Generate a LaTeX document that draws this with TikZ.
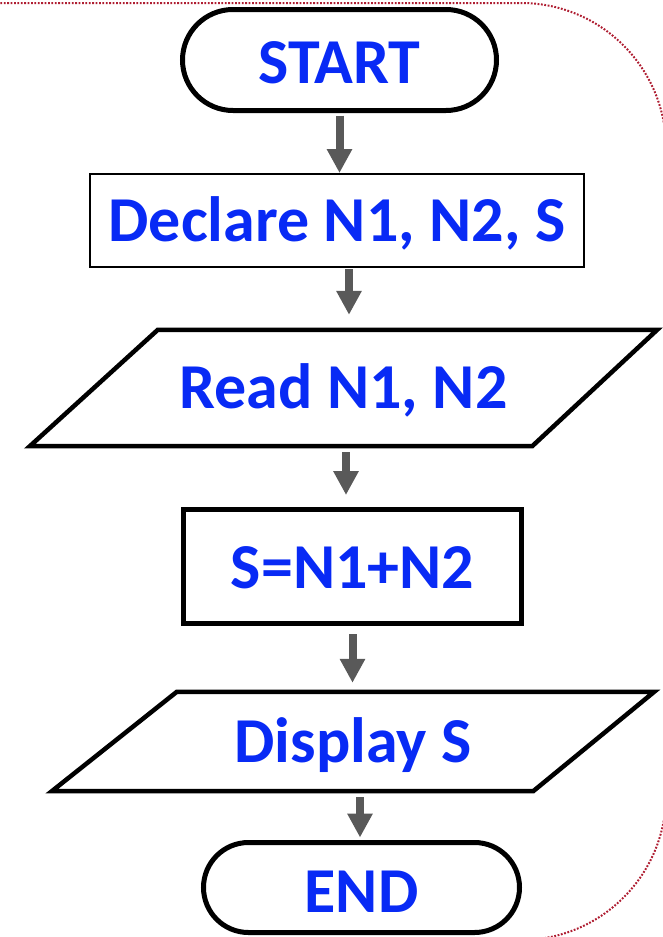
\documentclass[tikz,border=0pt]{standalone}
\usepackage{fontspec}
\setmainfont{Carlito}
\usetikzlibrary{arrows.meta,calc}
\definecolor{txtblue}{RGB}{8,42,245}
\definecolor{arrgray}{RGB}{89,89,89}
\definecolor{framered}{RGB}{175,30,50}
\begin{document}
\begin{tikzpicture}[x=1pt,y=-1pt,
  every node/.style={font=\fontsize{64}{72}\bfseries\selectfont, text=txtblue, inner sep=0pt, text depth=0pt, text height=41pt},
  termbox/.style={draw=black, line width=5pt, rectangle},
  procthin/.style={draw=black, line width=2pt, rectangle},
  procthick/.style={draw=black, line width=5pt, rectangle},
  iobox/.style={rectangle},
  ioline/.style={draw=black, line width=4.5pt, line join=miter},
  arr/.style={draw=arrgray, line width=8pt, -{Triangle[length=24pt,width=24pt]}},
  redframe/.style={draw=framered, line width=2pt, dash pattern=on 1.8pt off 1.6pt}]
\useasboundingbox (0,0) rectangle (663,937);
\begin{scope}
\clip (0,0) rectangle (663,937);
\draw[redframe, rounded corners=145pt] (-20,3) -- (666,3) -- (666,940) -- (-20,940);
\end{scope}

\node[termbox, rounded corners=50.5pt, minimum width=314pt, minimum height=101pt, text height=46pt] (start) at (339.5,60) {START};
\node[procthin, minimum width=494pt, minimum height=93pt, text height=42pt] (declare) at (337,220.5) {Declare N1, N2, S};
\node[iobox, minimum width=627pt, minimum height=116pt] (read) at (343.5,388) {Read N1, N2};
\draw[ioline] ($(read.north west)+(128,0)$) -- (read.north east) -- ($(read.south east)-(125,0)$) -- (read.south west) -- cycle;
\node[procthick, minimum width=338pt, minimum height=114pt, text height=44pt] (sum) at (352.5,566.5) {S=N1+N2};
\node[iobox, minimum width=602pt, minimum height=99pt] (display) at (353,741.5) {Display S};
\draw[ioline] ($(display.north west)+(125,0)$) -- (display.north east) -- ($(display.south east)-(121,0)$) -- (display.south west) -- cycle;
\node[termbox, rounded corners=45pt, minimum width=316pt, minimum height=90pt, text height=49pt] (stop) at (361.5,887.5) {END};

\draw[arr, shorten <=2.5pt] (start.south) -- (start.south |- declare.north);
\draw[arr, shorten <=1pt, shorten >=15pt] ([xshift=12pt]declare.south) -- ([xshift=12pt]declare.south |- read.north);
\draw[arr, shorten <=6pt, shorten >=12pt] ([xshift=2.5pt]read.south) -- ([xshift=2.5pt]read.south |- sum.north);
\draw[arr, shorten <=8pt, shorten >=9pt] (sum.south) -- (sum.south |- display.north);
\draw[arr, shorten <=6pt, shorten >=2.5pt] ([xshift=7pt]display.south) -- ([xshift=7pt]display.south |- stop.north);
\end{tikzpicture}
\end{document}
